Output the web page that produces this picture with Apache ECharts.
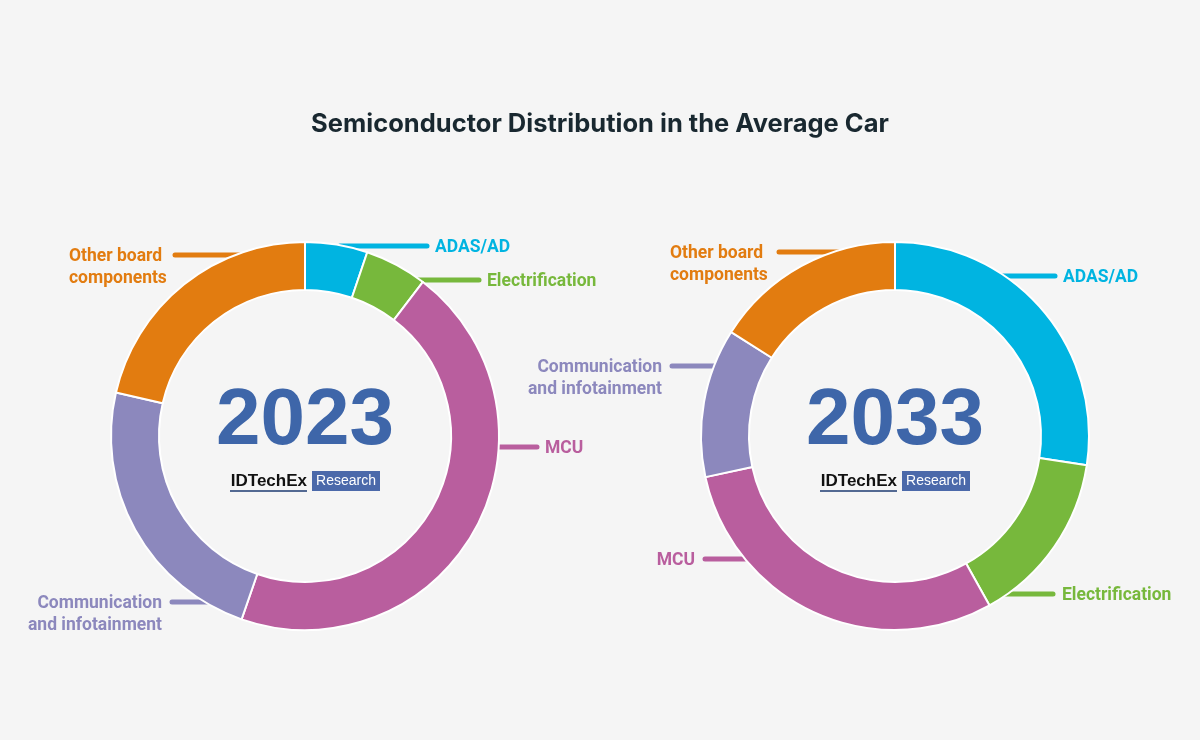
<!DOCTYPE html>
<html><head><meta charset="utf-8">
<script src="https://cdn.jsdelivr.net/npm/echarts@6/dist/echarts.min.js"></script>
<style>html,body{margin:0;padding:0;background:#f5f5f5}#c{width:1200px;height:740px}</style>
</head><body><div id="c"></div>
<script>
// ---- data ----
const categories = ['ADAS/AD', 'Electrification', 'MCU', 'Communication and infotainment', 'Other board components'];
const labelTexts = ['ADAS/AD', 'Electrification', 'MCU', 'Communication\nand infotainment', 'Other board\ncomponents'];
const share2023 = [5.2, 5.2, 44.9, 23.3, 21.4];
const share2033 = [27.4, 14.5, 29.7, 12.4, 16.0];
const years = ['2023', '2033'];
const title = 'Semiconductor Distribution in the Average Car';

// ---- styling / layout ----
const colors = ['#00b4e1', '#77b83c', '#b95e9e', '#8c88bd', '#e27c10'];
const centers = [[305, 436], [895, 436]];
const radius = [146, 194];
// label placement per series: [lineY, lineFromX, lineToX, textX, align]
const labelPlace = [
  [[246, 340, 427, 435, 'left'], [280, 410, 479, 487, 'left'], [447, 490, 537, 545, 'left'],
   [602, 232, 172, 162, 'right'], [255, 300, 175, 69, 'left']],
  [[276, 1000, 1055, 1063, 'left'], [594, 1005, 1053, 1062, 'left'], [559, 745, 705, 695, 'right'],
   [366, 720, 672, 662, 'right'], [252, 888, 779, 670, 'left']]
];
const LH = 22;

function makeSeries(values, si) {
  return {
    type: 'pie',
    center: centers[si],
    radius: radius,
    startAngle: 90,
    clockwise: true,
    avoidLabelOverlap: false,
    silent: true,
    itemStyle: { borderColor: '#ffffff', borderWidth: 2 },
    label: {
      show: true,
      formatter: p => labelTexts[p.dataIndex],
      fontFamily: 'Roboto', fontWeight: 'bold', fontSize: 17.5, lineHeight: LH
    },
    labelLine: { show: true, length: 10, length2: 10, smooth: false,
      lineStyle: { width: 5, cap: 'round' } },
    labelLayout: function (p) {
      const L = labelPlace[si][p.dataIndex];
      const y = L[0];
      return {
        x: L[3], y: y - LH / 2 + 2, align: L[4], verticalAlign: 'top',
        labelLinePoints: [[L[1], y], [(L[1] + L[2]) / 2, y], [L[2], y]]
      };
    },
    data: categories.map((c, i) => ({
      name: c, value: values[i],
      itemStyle: { color: colors[i] },
      label: { color: colors[i] },
      labelLine: { lineStyle: { color: colors[i] } }
    }))
  };
}

function centerGraphics(si) {
  const [cx, cy] = centers[si];
  return [
    { type: 'text', x: cx, y: cy - 14, style: { text: years[si], fill: '#3e66a9',
      font: 'bold 80px "Liberation Sans", Arial, sans-serif', textAlign: 'center', textVerticalAlign: 'middle' } },
    { type: 'text', x: cx + 2, y: cy + 45, style: { text: 'IDTechEx', fill: '#111',
      font: 'bold 17px "Liberation Sans", Arial, sans-serif', textAlign: 'right', textVerticalAlign: 'middle' } },
    { type: 'line', shape: { x1: cx - 75, y1: cy + 55, x2: cx + 2, y2: cy + 55 },
      style: { stroke: '#1d3a70', lineWidth: 1.5 } },
    { type: 'rect', shape: { x: cx + 7, y: cy + 35, width: 68, height: 20 }, style: { fill: '#4b69aa' } },
    { type: 'text', x: cx + 41, y: cy + 45, style: { text: 'Research', fill: '#fff',
      font: '14px "Liberation Sans", Arial, sans-serif', textAlign: 'center', textVerticalAlign: 'middle' } }
  ];
}

const chart = echarts.init(document.getElementById('c'));
chart.setOption({
  backgroundColor: '#f5f5f5',
  animation: false,
  title: { text: title, left: 'center', top: 106,
    textStyle: { fontFamily: 'Inter', fontWeight: 'bold', fontSize: 25.5, color: '#192830' } },
  series: [makeSeries(share2023, 0), makeSeries(share2033, 1)],
  graphic: centerGraphics(0).concat(centerGraphics(1))
});
</script></body></html>
